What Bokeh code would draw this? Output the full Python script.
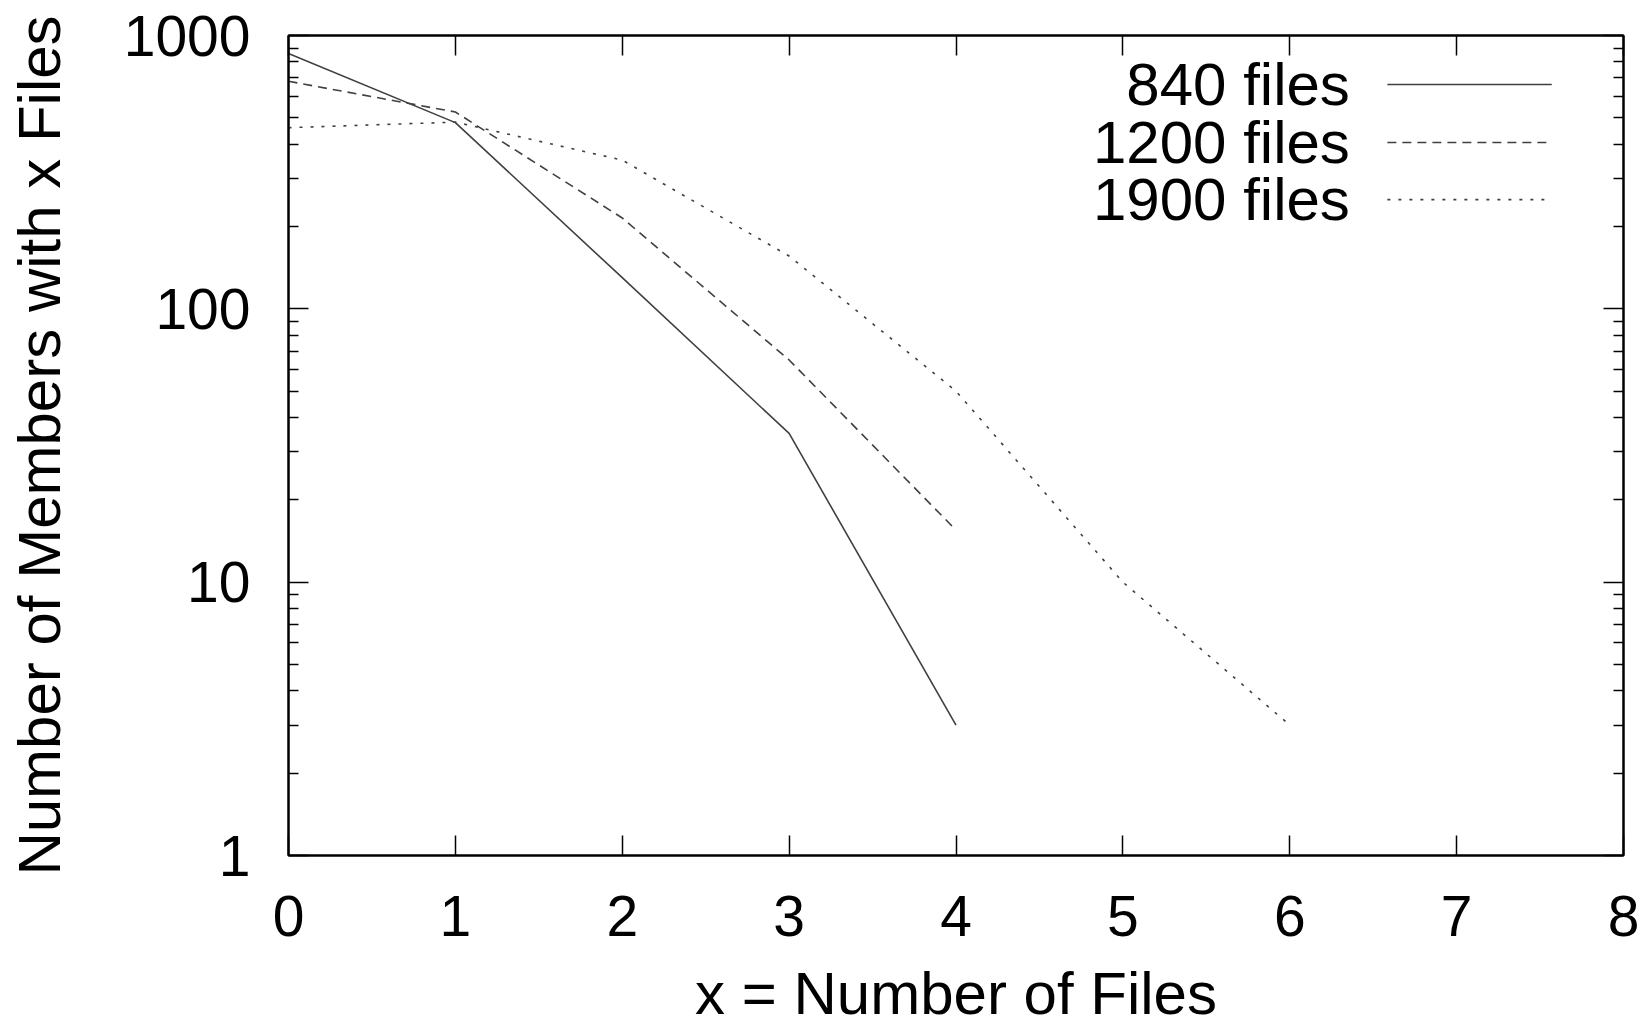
from bokeh.plotting import figure
from bokeh.models import (Range1d, LinearAxis, LogAxis, FixedTicker, Label, Arrow,
                          CustomJSTickFormatter, ColumnDataSource)
from bokeh.embed import file_html
from bokeh.resources import INLINE

# ---- data ----
x_840 = [0, 1, 2, 3, 4]
y_840 = [860, 480, 130, 35, 3]
x_1200 = [0, 1, 2, 3, 4]
y_1200 = [680, 525, 215, 65, 15.5]
x_1900 = [0, 1, 2, 3, 4, 5, 6]
y_1900 = [460, 482, 350, 156, 50, 10, 3]
series_names = ["840 files", "1200 files", "1900 files"]

x_ticks = [0, 1, 2, 3, 4, 5, 6, 7, 8]
y_ticks = [1, 10, 100, 1000]
y_tick_labels = ["1", "10", "100", "1000"]
y_minor = [m * d for d in (1, 10, 100) for m in range(2, 10)]

FONT = "Liberation Sans"
LINE_COLOR = "#404040"
DASHES = ["solid", "9 6", "3 8"]

p = figure(width=1645, height=1030, x_range=Range1d(0, 8), y_range=Range1d(1, 1000),
           y_axis_type="log", output_backend="svg", toolbar_location=None,
           min_border_left=288, min_border_right=22, min_border_top=35, min_border_bottom=175)

p.xgrid.visible = False
p.ygrid.visible = False
p.outline_line_color = "black"
p.outline_line_width = 2
p.background_fill_color = "white"
p.border_fill_color = "white"

for xs, ys, dash in [(x_840, y_840, DASHES[0]), (x_1200, y_1200, DASHES[1]), (x_1900, y_1900, DASHES[2])]:
    src = ColumnDataSource(dict(x=xs, y=ys))
    p.line("x", "y", source=src, line_color=LINE_COLOR, line_width=1.6, line_dash=dash)

def style(ax, labels=True):
    ax.axis_line_color = "black"
    ax.axis_line_width = 2
    ax.major_tick_in = 20
    ax.major_tick_out = 0
    ax.minor_tick_in = 10
    ax.minor_tick_out = 0
    ax.major_tick_line_color = "black"
    ax.major_tick_line_width = 1.5
    ax.minor_tick_line_color = "black"
    ax.minor_tick_line_width = 1.5
    ax.major_label_text_font = FONT
    ax.major_label_text_font_size = "57px"
    ax.major_label_text_color = "black"
    ax.axis_label_text_font = FONT
    ax.axis_label_text_font_size = "60px"
    ax.axis_label_text_font_style = "normal"
    ax.axis_label_text_color = "black"
    if not labels:
        ax.formatter = CustomJSTickFormatter(code="return ''")

xt = FixedTicker(ticks=x_ticks, minor_ticks=[])
yt = FixedTicker(ticks=y_ticks, minor_ticks=y_minor)

xb = p.xaxis[0]
xb.ticker = xt
style(xb)
xb.axis_label = "x = Number of Files"
xb.major_label_standoff = 40
xb.axis_label_standoff = 21

yl = p.yaxis[0]
yl.ticker = yt
style(yl)
yl.major_label_overrides = {t: l for t, l in zip(y_ticks, y_tick_labels)}
yl.axis_label = "Number of Members with x Files"
yl.major_label_standoff = 38
yl.axis_label_standoff = 48

xtop = LinearAxis(ticker=xt)
style(xtop, labels=False)
p.add_layout(xtop, "above")
yr = LogAxis(ticker=yt)
style(yr, labels=False)
p.add_layout(yr, "right")

# ---- legend (gnuplot style: text then line sample) ----
leg_y = [662, 406, 251]
leg_text_x = 6.36
leg_x0, leg_x1 = 6.585, 7.57
for name, dash, ly in zip(series_names, DASHES, leg_y):
    p.add_layout(Label(x=leg_text_x, y=ly, text=name, text_align="right", text_baseline="middle",
                       text_font=FONT, text_font_size="60px", text_color="black"))
    p.add_layout(Arrow(x_start=leg_x0, y_start=ly, x_end=leg_x1, y_end=ly, end=None,
                       line_color=LINE_COLOR, line_width=1.6, line_dash=dash))

open("out.html", "w").write(file_html(p, INLINE))
